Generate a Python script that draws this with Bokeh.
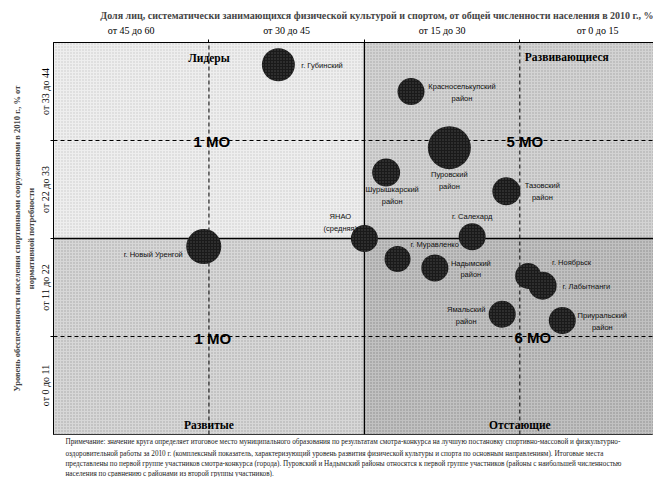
from bokeh.plotting import figure
from bokeh.models import Range1d, FixedTicker, Title, ColumnDataSource
from bokeh.core.properties import value
from bokeh.embed import file_html
from bokeh.resources import INLINE

# ---------------- data ----------------
municipalities = ["г. Губинский", "Красноселькупский\nрайон", "Пуровский\nрайон",
                  "Шурышкарский\nрайон", "Тазовский\nрайон", "ЯНАО\n(средняя)",
                  "г. Новый Уренгой", "г. Салехард", "г. Муравленко", "Надымский\nрайон",
                  "г. Ноябрьск", "г. Лабытнанги", "Ямальский\nрайон", "Приуральский\nрайон"]
sport_share = [38.3, 25.5, 21.8, 27.9, 16.3, 30.0, 45.5, 19.6, 26.8, 23.2, 14.2, 12.8, 16.7, 10.9]
facility_supply = [41.5, 38.5, 32.2, 29.4, 27.3, 22.0, 21.1, 22.2, 19.7, 18.7, 17.8, 16.7, 13.5, 12.8]
circle_value = [3.3, 2.7, 4.3, 2.8, 2.8, 2.7, 3.5, 2.7, 2.6, 2.7, 2.6, 2.8, 2.7, 2.7]
is_average = [False, False, False, False, False, True, False, False, False, False, False, False, False, False]

x_bin_edges = [60, 45, 30, 15, 0]
x_tick_labels = ["от 45 до 60", "от 30 до 45", "от 15 до 30", "от 0 до 15"]
y_bin_edges = [0, 11, 22, 33, 44]
y_tick_labels = ["от 0 до 11", "от 11 до 22", "от 22 до 33", "от 33 до 44"]

quadrant_names = ["Лидеры", "Развивающиеся", "Развитые", "Отстающие"]

title_text = ("Доля лиц, систематически занимающихся физической культурой и спортом, "
              "от общей численности населения в 2010 г., %")
y_title = ("Уровень обеспеченности населения спортивными сооружениями в 2010 г., % от\n"
           "нормативной потребности")
note_lines = [
    "Примечание: значение круга определяет итоговое место муниципального образования по результатам смотра-конкурса на лучшую постановку спортивно-массовой и физкультурно-",
    "оздоровительной работы за 2010 г. (комплексный показатель, характеризующий уровень развития физической культуры и спорта по основным направлениям). Итоговые места",
    "представлены по первой группе участников смотра-конкурса (города). Пуровский и Надымский районы относятся к первой группе участников (районы с наибольшей численностью",
    "населения по сравнению с районами из второй группы участников).",
]

# ---------------- styles (label placement, px) ----------------
label_dx = [23, 51, 0, 6, 36, -24, -21, 0, 13, 36, 24, 20, -36, 40]
label_dy = [1, 1, 33, 23, 0, -16, 8, -20, -14, 1, -13, 1, 1, 1]
label_align = ["left", "center", "center", "center", "center", "center", "right",
               "center", "left", "center", "left", "left", "center", "center"]

SERIF = "Liberation Serif"
SANS = "Liberation Sans"

x_lo, x_mid, x_hi = x_bin_edges[0], x_bin_edges[2], x_bin_edges[-1]
y_lo, y_mid, y_hi = y_bin_edges[0], y_bin_edges[2], y_bin_edges[-1]

# the right part of the last column is cut off in the original picture
p = figure(width=653, height=477, x_range=Range1d(x_lo, 2.1), y_range=Range1d(y_lo, y_hi),
           x_axis_location="above", output_backend="svg", toolbar_location=None,
           min_border_left=53, min_border_right=0, min_border_top=42, min_border_bottom=10)
p.grid.visible = False
p.outline_line_color = "black"
p.outline_line_width = 1

# quadrant backgrounds
p.quad(left=[x_lo, x_mid, x_lo, x_mid], right=[x_mid, x_hi, x_mid, x_hi],
       bottom=[y_mid, y_mid, y_lo, y_lo], top=[y_hi, y_hi, y_mid, y_mid],
       fill_color=["#eeeeee", "#d3d3d3", "#d7d7d7", "#c1c1c1"], line_color=None,
       hatch_pattern="dot", hatch_color="#6f6f6f", hatch_scale=3, hatch_weight=0.5,
       hatch_alpha=[0.3, 0.5, 0.5, 0.65])

# split lines
p.segment(x0=[x_mid], x1=[x_mid], y0=[y_lo], y1=[y_hi], line_color="black", line_width=1.3)
p.segment(x0=[x_lo], x1=[x_hi], y0=[y_mid], y1=[y_mid], line_color="black", line_width=1.3)
p.segment(x0=[x_bin_edges[1], x_bin_edges[3]], x1=[x_bin_edges[1], x_bin_edges[3]],
          y0=[y_lo, y_lo], y1=[y_hi, y_hi], line_color="black", line_width=1, line_dash="4 3")
p.segment(x0=[x_lo, x_lo], x1=[x_hi, x_hi], y0=[y_bin_edges[1], y_bin_edges[3]],
          y1=[y_bin_edges[1], y_bin_edges[3]], line_color="black", line_width=1, line_dash="4 3")

# bubbles
src = ColumnDataSource(dict(x=sport_share, y=facility_supply, name=municipalities,
                            size=[v * 10 for v in circle_value],
                            dx=label_dx, dy=label_dy, align=label_align))
p.scatter("x", "y", size="size", source=src, fill_color="#1a1a1a", line_color=None,
          hatch_pattern="dot", hatch_color="#8a8a8a", hatch_scale=3, hatch_weight=0.5,
          hatch_alpha=0.45)
p.text("x", "y", text="name", source=src, x_offset="dx", y_offset="dy", text_align="align",
       text_baseline="middle", text_font=value(SANS), text_font_size="7.5px",
       text_color="#111111", text_line_height=1.3)

# quadrant counts (МО), excluding the average
counts = [0, 0, 0, 0]  # leaders, developing, developed, lagging
for sx, sy, avg in zip(sport_share, facility_supply, is_average):
    if avg:
        continue
    top = sy > y_mid
    left = sx > x_mid
    idx = (0 if left else 1) if top else (2 if left else 3)
    counts[idx] += 1

mo_src = ColumnDataSource(dict(
    x=[x_bin_edges[1], x_bin_edges[3], x_bin_edges[1], x_bin_edges[3]],
    y=[y_bin_edges[3], y_bin_edges[3], y_bin_edges[1], y_bin_edges[1]],
    t=[f"{c} МО" for c in counts],
    dx=[3, 5, 4, 13], dy=[1, 1, 2, 1]))
p.text("x", "y", text="t", source=mo_src, x_offset="dx", y_offset="dy", text_align="center",
       text_baseline="alphabetic", text_font=value(SANS), text_font_style="bold",
       text_font_size="15px", text_color="black")

q_src = ColumnDataSource(dict(
    x=[x_bin_edges[1], x_bin_edges[3], x_bin_edges[1], x_bin_edges[3]],
    y=[y_hi, y_hi, y_lo, y_lo], t=quadrant_names,
    dx=[0, 5, 0, 0], dy=[15, 14, -10, -10], align=["center", "left", "center", "center"]))
p.text("x", "y", text="t", source=q_src, x_offset="dx", y_offset="dy", text_align="align",
       text_baseline="middle", text_font=value(SERIF), text_font_style="bold",
       text_font_size="11.5px", text_color="black")

# top axis: categories of sport share
x_centers = [(a + b) / 2 for a, b in zip(x_bin_edges[:-1], x_bin_edges[1:])]
xa = p.xaxis[0]
xa.ticker = FixedTicker(ticks=x_centers, minor_ticks=x_bin_edges[1:-1])
xa.major_label_overrides = {c: t for c, t in zip(x_centers, x_tick_labels)}
xa.major_tick_line_color = None
xa.major_tick_out = 0
xa.major_tick_in = 0
xa.minor_tick_out = 3
xa.minor_tick_in = 0
xa.major_label_standoff = 4
xa.major_label_text_font = SERIF
xa.major_label_text_font_size = "10px"
xa.major_label_text_color = "black"
xa.axis_line_color = "black"

# left axis: categories of facility supply
y_centers = [(a + b) / 2 for a, b in zip(y_bin_edges[:-1], y_bin_edges[1:])]
ya = p.yaxis[0]
ya.ticker = FixedTicker(ticks=y_centers, minor_ticks=y_bin_edges[1:-1])
ya.major_label_overrides = {c: t for c, t in zip(y_centers, y_tick_labels)}
ya.major_label_orientation = "vertical"
ya.major_tick_line_color = None
ya.major_tick_out = 0
ya.major_tick_in = 0
ya.minor_tick_out = 3
ya.minor_tick_in = 0
ya.major_label_standoff = 0
ya.major_label_text_font = SERIF
ya.major_label_text_font_size = "10px"
ya.major_label_text_color = "black"
ya.axis_label = y_title
ya.axis_label_text_font = SERIF
ya.axis_label_text_font_style = "bold"
ya.axis_label_text_font_size = "8.5px"
ya.axis_label_text_line_height = 1.4
ya.axis_label_standoff = 1
ya.axis_line_color = "black"

p.add_layout(Title(text=title_text, align="right", text_font=SERIF, text_font_style="bold",
                   text_font_size="10px", standoff=2), "above")

# note under the chart (one title per line, first line nearest the frame)
for i, line in enumerate(note_lines):
    p.add_layout(Title(text=line, align="left", offset=12, text_font=SERIF,
                       text_font_style="normal", text_font_size="7.2px",
                       text_line_height=1.0, standoff=0 if i else 3,
                       text_color="#222222"), "below")

open("out.html", "w").write(file_html(p, INLINE))
